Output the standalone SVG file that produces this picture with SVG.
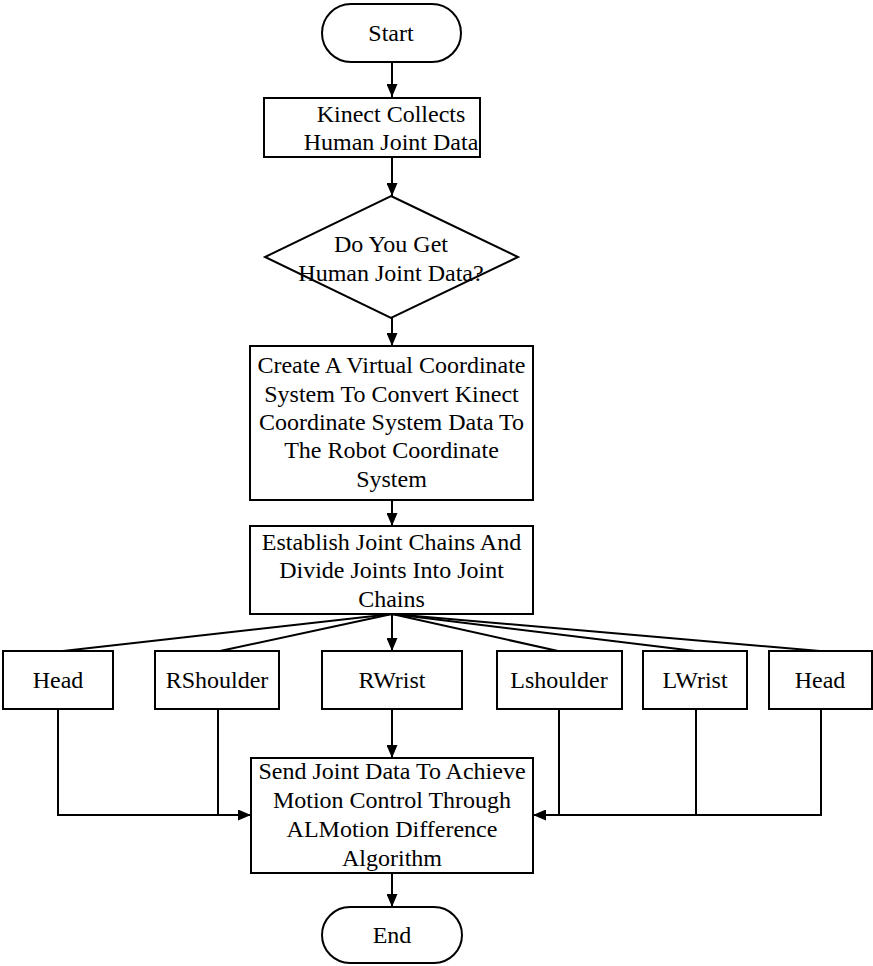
<svg xmlns="http://www.w3.org/2000/svg" width="873" height="966" viewBox="0 0 873 966">
<style>
.n{fill:#fff;stroke:#000;stroke-width:2}
.t{font-family:"Liberation Serif","Times New Roman",serif;font-size:24px;fill:#000;text-anchor:middle}
.c{fill:none;stroke:#000;stroke-width:2}
</style>
<defs>
<marker id="ah" viewBox="0 0 13 11" refX="13" refY="5.5" markerWidth="13" markerHeight="11" markerUnits="userSpaceOnUse" orient="auto">
<path d="M0,0 L13,5.5 L0,11 Z" fill="#000"/>
</marker>
</defs>
<rect width="873" height="966" fill="#fff"/>
<g id="connectors">
<line class="c" x1="392" y1="62" x2="392" y2="97" marker-end="url(#ah)"/>
<line class="c" x1="392" y1="157" x2="392" y2="196" marker-end="url(#ah)"/>
<line class="c" x1="392" y1="318" x2="392" y2="346" marker-end="url(#ah)"/>
<line class="c" x1="392" y1="500" x2="392" y2="526" marker-end="url(#ah)"/>
<line class="c" x1="392" y1="614" x2="392" y2="651" marker-end="url(#ah)"/>
<line class="c" x1="392" y1="614" x2="63" y2="651"/>
<line class="c" x1="392" y1="614" x2="220" y2="651"/>
<line class="c" x1="392" y1="614" x2="558" y2="651"/>
<line class="c" x1="392" y1="614" x2="695" y2="651"/>
<line class="c" x1="392" y1="614" x2="820" y2="651"/>
<line class="c" x1="392" y1="709" x2="392" y2="758" marker-end="url(#ah)"/>
<polyline class="c" points="58,709 58,815 251,815" marker-end="url(#ah)"/>
<line class="c" x1="218" y1="709" x2="218" y2="815"/>
<polyline class="c" points="821,709 821,815 533,815" marker-end="url(#ah)"/>
<line class="c" x1="559" y1="709" x2="559" y2="815"/>
<line class="c" x1="696" y1="709" x2="696" y2="815"/>
<line class="c" x1="392" y1="873" x2="392" y2="907" marker-end="url(#ah)"/>
</g>
<g id="start">
<rect class="n" x="322" y="4" width="139" height="58" rx="29"/>
<text class="t" x="391" y="41">Start</text>
</g>
<g id="kinect">
<rect class="n" x="264" y="98" width="216" height="59"/>
<text class="t" x="391" y="122">Kinect Collects</text>
<text class="t" x="391" y="150">Human Joint Data</text>
</g>
<g id="decision">
<polygon class="n" points="391,196 518,257 391,318 265,257"/>
<text class="t" x="391" y="252">Do You Get</text>
<text class="t" x="391" y="281">Human Joint Data?</text>
</g>
<g id="virtual">
<rect class="n" x="250" y="346" width="283" height="154"/>
<text class="t" x="391.5" y="373">Create A Virtual Coordinate</text>
<text class="t" x="391.5" y="402">System To Convert Kinect</text>
<text class="t" x="391.5" y="430">Coordinate System Data To</text>
<text class="t" x="391.5" y="458">The Robot Coordinate</text>
<text class="t" x="391.5" y="487">System</text>
</g>
<g id="chains">
<rect class="n" x="250" y="526" width="283" height="88"/>
<text class="t" x="391.5" y="550">Establish Joint Chains And</text>
<text class="t" x="391.5" y="578">Divide Joints Into Joint</text>
<text class="t" x="391.5" y="607">Chains</text>
</g>
<g id="head1">
<rect class="n" x="3" y="651" width="110" height="58"/>
<text class="t" x="58" y="688">Head</text>
</g>
<g id="rshoulder">
<rect class="n" x="155" y="651" width="124" height="58"/>
<text class="t" x="217" y="688">RShoulder</text>
</g>
<g id="rwrist">
<rect class="n" x="322" y="651" width="140" height="58"/>
<text class="t" x="392" y="688">RWrist</text>
</g>
<g id="lshoulder">
<rect class="n" x="497" y="651" width="125" height="58"/>
<text class="t" x="559" y="688">Lshoulder</text>
</g>
<g id="lwrist">
<rect class="n" x="643" y="651" width="104" height="58"/>
<text class="t" x="695" y="688">LWrist</text>
</g>
<g id="head2">
<rect class="n" x="769" y="651" width="103" height="58"/>
<text class="t" x="820" y="688">Head</text>
</g>
<g id="send">
<rect class="n" x="251" y="758" width="282" height="115"/>
<text class="t" x="392" y="779">Send Joint Data To Achieve</text>
<text class="t" x="392" y="808">Motion Control Through</text>
<text class="t" x="392" y="837">ALMotion Difference</text>
<text class="t" x="392" y="866">Algorithm</text>
</g>
<g id="end">
<rect class="n" x="322" y="907" width="140" height="56" rx="28"/>
<text class="t" x="392" y="943">End</text>
</g>
</svg>
